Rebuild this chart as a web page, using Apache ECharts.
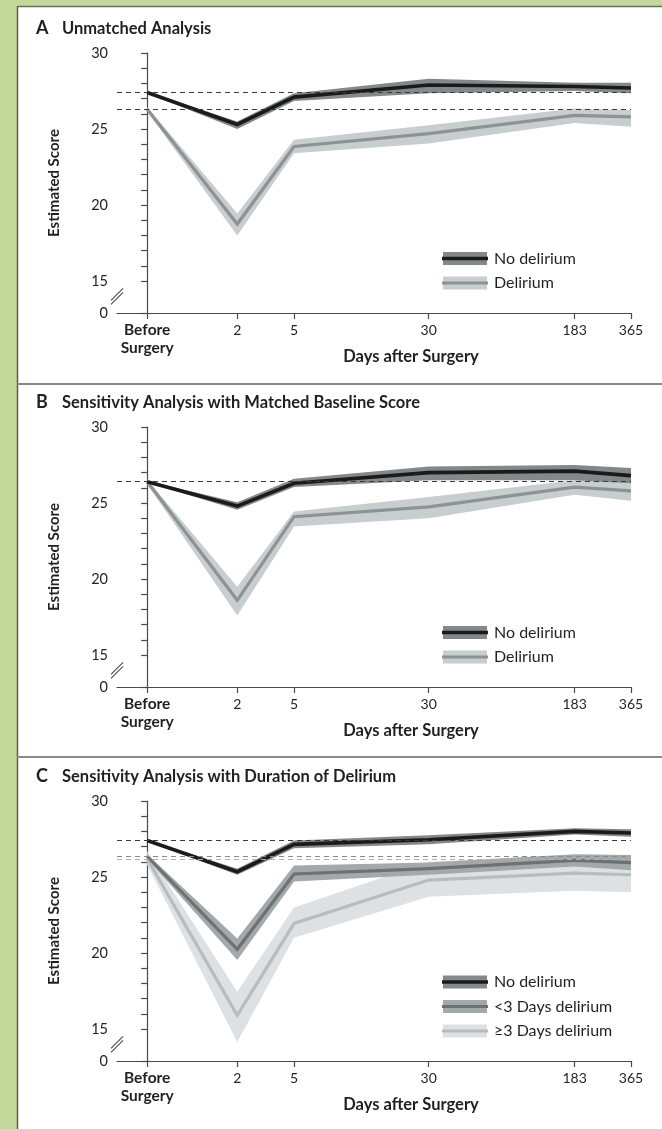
<!DOCTYPE html>
<html><head><meta charset="utf-8">
<script src="https://cdn.jsdelivr.net/npm/echarts@6/dist/echarts.min.js"></script>
<style>html,body{margin:0;padding:0;background:#fff}#c{width:662px;height:1129px}</style>
</head><body><div id="c"></div>
<script>
// ---------------- data ----------------
const DAYS = [0, 2, 5, 30, 183, 365];
const X_TICK_LABELS = ['Before\nSurgery', '2', '5', '30', '183', '365'];
const Y_TICK_VALUES = [15,16,17,18,19,20,21,22,23,24,25,26,27,28,29,30];
const Y_LABEL_VALUES = [15, 20, 25, 30];
const Y_BOTTOM_LABEL = '0';

const PANEL_TITLES = [
  ['A', 'Unmatched Analysis'],
  ['B', 'Sensitivity Analysis with Matched Baseline Score'],
  ['C', 'Sensitivity Analysis with Duration of Delirium']
];
const X_AXIS_TITLE = 'Days after Surgery';
const Y_AXIS_TITLE = 'Estimated Score';

// Panel A
const A_NONE    = [27.4, 25.3, 27.1, 27.9, 27.8, 27.7];
const A_NONE_LO = [27.35, 25.0, 26.85, 27.35, 27.5, 27.35];
const A_NONE_HI = [27.45, 25.5, 27.35, 28.3, 28.05, 28.05];
const A_DEL     = [26.3, 18.75, 23.85, 24.7, 25.9, 25.8];
const A_DEL_LO  = [26.15, 18.0, 23.4, 24.05, 25.4, 25.15];
const A_DEL_HI  = [26.45, 19.45, 24.3, 25.25, 26.35, 26.25];
// Panel B
const B_NONE    = [26.4, 24.8, 26.3, 27.0, 27.1, 26.8];
const B_NONE_LO = [26.35, 24.55, 26.05, 26.5, 26.5, 26.3];
const B_NONE_HI = [26.45, 25.05, 26.6, 27.4, 27.5, 27.3];
const B_DEL     = [26.4, 18.6, 24.1, 24.75, 26.05, 25.8];
const B_DEL_LO  = [26.25, 17.6, 23.45, 24.0, 25.55, 25.15];
const B_DEL_HI  = [26.55, 19.5, 24.45, 25.4, 26.5, 26.4];
// Panel C
const C_NONE     = [27.4, 25.35, 27.15, 27.45, 28.0, 27.9];
const C_NONE_LO  = [27.35, 25.15, 26.9, 27.15, 27.8, 27.65];
const C_NONE_HI  = [27.45, 25.55, 27.4, 27.75, 28.2, 28.15];
const C_SHORT    = [26.35, 20.25, 25.2, 25.55, 26.1, 25.95];
const C_SHORT_LO = [26.2, 19.55, 24.7, 25.15, 25.7, 25.45];
const C_SHORT_HI = [26.5, 20.95, 25.75, 25.95, 26.5, 26.45];
const C_LONG     = [26.2, 15.9, 21.95, 24.8, 25.25, 25.15];
const C_LONG_LO  = [25.8, 14.15, 21.0, 23.7, 24.1, 24.0];
const C_LONG_HI  = [26.7, 17.45, 23.0, 26.0, 26.45, 26.35];

const NAME_NONE = 'No delirium';
const NAME_DEL = 'Delirium';
const NAME_SHORT = '<3 Days delirium';
const NAME_LONG = '\u22653 Days delirium';

// ---------------- styles / layout ----------------
const FONT = 'Lato, "Open Sans", sans-serif';
const TXT = '#231f20';
const AXIS_C = '#4a4a4a';
const STYLE = {
  none:  {line: '#1b1b1b', band: '#83888b', dash: '#3a3a3a', width: 3.6},
  del:   {line: '#8d9295', band: '#c8cdd0', dash: '#3a3a3a', width: 3.2},
  short: {line: '#6c7174', band: '#a3a8ab', dash: '#8a8a8a', width: 3.2},
  long:  {line: '#b7bcbf', band: '#dde1e3', dash: '#b0b0b0', width: 3.2}
};
const GRID_TOPS = [53, 427, 801];
const GRID_H = 260;
const GRID_LEFT = 117;
const GRID_RIGHT = 31;
const Y_MIN = 12.9, Y_MAX = 30;
const BREAK_AT = 14.0;
const X_MIN = -0.16;

const xs = DAYS.map(d => Math.log10(d + 1));
const X_MAX = xs[xs.length - 1];

const panels = [
  [
    {name: NAME_DEL, mid: A_DEL, lo: A_DEL_LO, hi: A_DEL_HI, s: STYLE.del},
    {name: NAME_NONE, mid: A_NONE, lo: A_NONE_LO, hi: A_NONE_HI, s: STYLE.none}
  ],
  [
    {name: NAME_DEL, mid: B_DEL, lo: B_DEL_LO, hi: B_DEL_HI, s: STYLE.del},
    {name: NAME_NONE, mid: B_NONE, lo: B_NONE_LO, hi: B_NONE_HI, s: STYLE.none}
  ],
  [
    {name: NAME_LONG, mid: C_LONG, lo: C_LONG_LO, hi: C_LONG_HI, s: STYLE.long},
    {name: NAME_SHORT, mid: C_SHORT, lo: C_SHORT_LO, hi: C_SHORT_HI, s: STYLE.short},
    {name: NAME_NONE, mid: C_NONE, lo: C_NONE_LO, hi: C_NONE_HI, s: STYLE.none}
  ]
];

function nearestIdx(v) {
  let b = 0;
  xs.forEach((x, i) => { if (Math.abs(x - v) < Math.abs(xs[b] - v)) b = i; });
  return b;
}

const grids = [], xAxes = [], yAxes = [], series = [], graphics = [];

// background green frame and panel borders
graphics.push({type: 'rect', shape: {x: 0, y: 0, width: 17, height: 1129}, style: {fill: '#c4d89c'}, silent: true});
graphics.push({type: 'rect', shape: {x: 0, y: 0, width: 662, height: 6}, style: {fill: '#c4d89c'}, silent: true});
graphics.push({type: 'line', shape: {x1: 17.5, y1: 6, x2: 17.5, y2: 1129}, style: {stroke: '#5a5a5a', lineWidth: 1.5}, silent: true});
graphics.push({type: 'line', shape: {x1: 17, y1: 6.5, x2: 662, y2: 6.5}, style: {stroke: '#6a6a6a', lineWidth: 1.5}, silent: true});
[384, 757].forEach(y => graphics.push({type: 'line', shape: {x1: 17, y1: y, x2: 662, y2: y}, style: {stroke: '#8a8a8a', lineWidth: 2}, silent: true}));

panels.forEach((groups, p) => {
  const top = GRID_TOPS[p];
  const bottom = top + GRID_H;
  grids.push({left: GRID_LEFT, right: GRID_RIGHT, top: top, height: GRID_H, containLabel: false});
  xAxes.push({
    type: 'value', gridIndex: p, min: X_MIN, max: X_MAX,
    splitLine: {show: false},
    axisLine: {lineStyle: {color: AXIS_C, width: 1.2}},
    axisTick: {customValues: xs, length: 6, lineStyle: {color: AXIS_C, width: 1.2}},
    axisLabel: {
      customValues: xs, margin: 8, color: TXT, fontFamily: FONT, fontSize: 14, lineHeight: 18,
      formatter: v => {
        const i = nearestIdx(v);
        const t = X_TICK_LABELS[i];
        return i === 0 ? t.split('\n').map(s => '{b|' + s + '}').join('\n') : t;
      },
      rich: {b: {fontWeight: 'bold', fontFamily: FONT, fontSize: 15.5, lineHeight: 18, color: TXT}}
    }
  });
  yAxes.push({
    type: 'value', gridIndex: p, min: Y_MIN, max: Y_MAX,
    splitLine: {show: false},
    name: Y_AXIS_TITLE, nameLocation: 'middle', nameGap: 55,
    nameTextStyle: {fontFamily: FONT, fontWeight: 'bold', fontSize: 15, color: TXT},
    axisLine: {show: true, lineStyle: {color: AXIS_C, width: 1.2}},
    axisTick: {customValues: [Y_MIN].concat(Y_TICK_VALUES), length: 6, lineStyle: {color: AXIS_C, width: 1.2}},
    axisLabel: {
      customValues: [Y_MIN].concat(Y_LABEL_VALUES), margin: 9, color: TXT, fontFamily: FONT, fontSize: 14.5,
      formatter: v => (v < 14.5 ? Y_BOTTOM_LABEL : String(Math.round(v)))
    }
  });

  groups.forEach(g => {
    // confidence band polygon
    series.push({
      type: 'custom', xAxisIndex: p, yAxisIndex: p, silent: true,
      data: [[xs[0], g.mid[0]]],
      renderItem: (params, api) => {
        const pts = [];
        xs.forEach((x, i) => pts.push(api.coord([x, g.hi[i]])));
        for (let i = xs.length - 1; i >= 0; i--) pts.push(api.coord([xs[i], g.lo[i]]));
        return {type: 'polygon', shape: {points: pts}, style: {fill: g.s.band}};
      }
    });
    // estimate line with dashed baseline
    series.push({
      type: 'line', name: g.name, xAxisIndex: p, yAxisIndex: p, silent: true,
      data: xs.map((x, i) => [x, g.mid[i]]),
      symbol: 'none', lineStyle: {color: g.s.line, width: g.s.width, join: 'miter'},
      markLine: {
        silent: true, symbol: ['none', 'none'], label: {show: false},
        lineStyle: {type: [5, 4], color: g.s.dash, width: 1.2},
        data: [{yAxis: g.mid[0]}]
      }
    });
  });

  // axis break mark
  series.push({
    type: 'custom', xAxisIndex: p, yAxisIndex: p, silent: true, z: 5,
    data: [[X_MIN, BREAK_AT]],
    renderItem: (params, api) => {
      const c = api.coord([X_MIN, BREAK_AT]);
      return {type: 'group', children: [
        {type: 'rect', shape: {x: c[0] - 4, y: c[1] - 5, width: 8, height: 9}, style: {fill: '#fff'}},
        {type: 'line', shape: {x1: c[0] - 6, y1: c[1] + 4, x2: c[0] + 6, y2: c[1] - 8}, style: {stroke: AXIS_C, lineWidth: 1.1}},
        {type: 'line', shape: {x1: c[0] - 6, y1: c[1] + 8, x2: c[0] + 6, y2: c[1] - 4}, style: {stroke: AXIS_C, lineWidth: 1.1}}
      ]};
    }
  });

  // panel title
  const ty = top - 24.5;
  graphics.push({type: 'text', x: 36, y: ty, style: {text: PANEL_TITLES[p][0], font: 'bold 18px ' + FONT, fill: TXT, verticalAlign: 'middle'}});
  graphics.push({type: 'text', x: 62, y: ty, style: {text: PANEL_TITLES[p][1], font: 'bold 16.5px ' + FONT, fill: TXT, verticalAlign: 'middle'}});
  // x axis title
  graphics.push({type: 'text', x: 411, y: bottom + 44, style: {text: X_AXIS_TITLE, font: 'bold 16.5px ' + FONT, fill: TXT, align: 'center', verticalAlign: 'middle'}});
  // legend (top to bottom: reverse of draw order)
  const leg = groups.slice().reverse();
  leg.forEach((g, i) => {
    const y = bottom - 30 - (leg.length - 1 - i) * 24.5;
    graphics.push({type: 'rect', shape: {x: 443, y: y - 6.5, width: 44, height: 13}, style: {fill: g.s.band}});
    graphics.push({type: 'line', shape: {x1: 442, y1: y, x2: 488, y2: y}, style: {stroke: g.s.line, lineWidth: g.s.width}});
    graphics.push({type: 'text', x: 494, y: y, style: {text: g.name, font: '16px ' + FONT, fill: TXT, verticalAlign: 'middle'}});
  });
});

const chart = echarts.init(document.getElementById('c'), null, {renderer: 'canvas'});
chart.setOption({
  backgroundColor: '#ffffff',
  animation: false,
  grid: grids, xAxis: xAxes, yAxis: yAxes, series: series,
  graphic: {elements: graphics}
});
</script></body></html>
